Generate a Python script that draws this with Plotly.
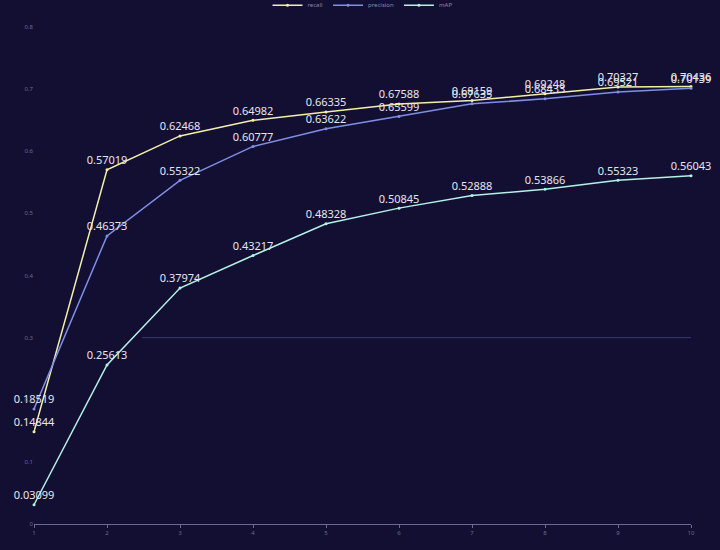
import plotly.graph_objects as go

# data
epochs = list(range(1, 11))
recall = [0.14844, 0.57019, 0.62468, 0.64982, 0.66335, 0.67588, 0.68159, 0.69248, 0.70327, 0.70436]
precision = [0.18519, 0.46373, 0.55322, 0.60777, 0.63622, 0.65599, 0.67635, 0.68433, 0.69521, 0.70139]
mAP = [0.03099, 0.25613, 0.37974, 0.43217, 0.48328, 0.50845, 0.52888, 0.53866, 0.55323, 0.56043]
y_ticks = [0, 0.1, 0.2, 0.3, 0.4, 0.5, 0.6, 0.7, 0.8]

series = [
    ("recall", recall, "#f2f0a8"),
    ("precision", precision, "#7f8fe6"),
    ("mAP", mAP, "#b4f2e6"),
]

fig = go.Figure()
for name, vals, color in series:
    fig.add_trace(go.Scatter(
        x=epochs, y=vals, name=name,
        mode="lines+markers+text",
        line=dict(color=color, width=1.5),
        marker=dict(size=3, color=color),
        text=[f"{v:.5f}" for v in vals],
        textposition="top center",
        textfont=dict(color="#e6e6ee", size=11, family="Noto Sans"),
        cliponaxis=False,
    ))

# faint reference line at 0.3
fig.add_shape(type="line", xref="x", yref="y", x0=2.48, x1=10, y0=0.3, y1=0.3,
              line=dict(color="#3a3a6a", width=1), layer="below")

fig.update_layout(
    width=720, height=550,
    paper_bgcolor="#130f33", plot_bgcolor="#130f33",
    margin=dict(l=34, r=29, t=27, b=26, autoexpand=False),
    showlegend=True,
    legend=dict(orientation="h", x=0.5, xanchor="center", y=1.044,
                yanchor="middle", font=dict(size=6, color="#8888aa"),
                bgcolor="rgba(0,0,0,0)", itemwidth=30),
    font=dict(family="Noto Sans"),
)
fig.update_xaxes(range=[1, 10], tickvals=epochs, showgrid=False, zeroline=False,
                 showline=True, linecolor="#6a6a90", ticks="outside", ticklen=3,
                 tickcolor="#6a6a90", tickfont=dict(size=6, color="#6a6a8c"))
fig.update_yaxes(range=[0, 0.8], tickvals=y_ticks, showgrid=False, zeroline=False,
                 showline=False, tickfont=dict(size=6, color="#6a6a8c"))

fig.write_html(
    "out.html",
    config={"displayModeBar": False},
    post_script="document.body.style.margin='0';document.body.style.background='#130f33';document.body.style.overflow='hidden';",
)
